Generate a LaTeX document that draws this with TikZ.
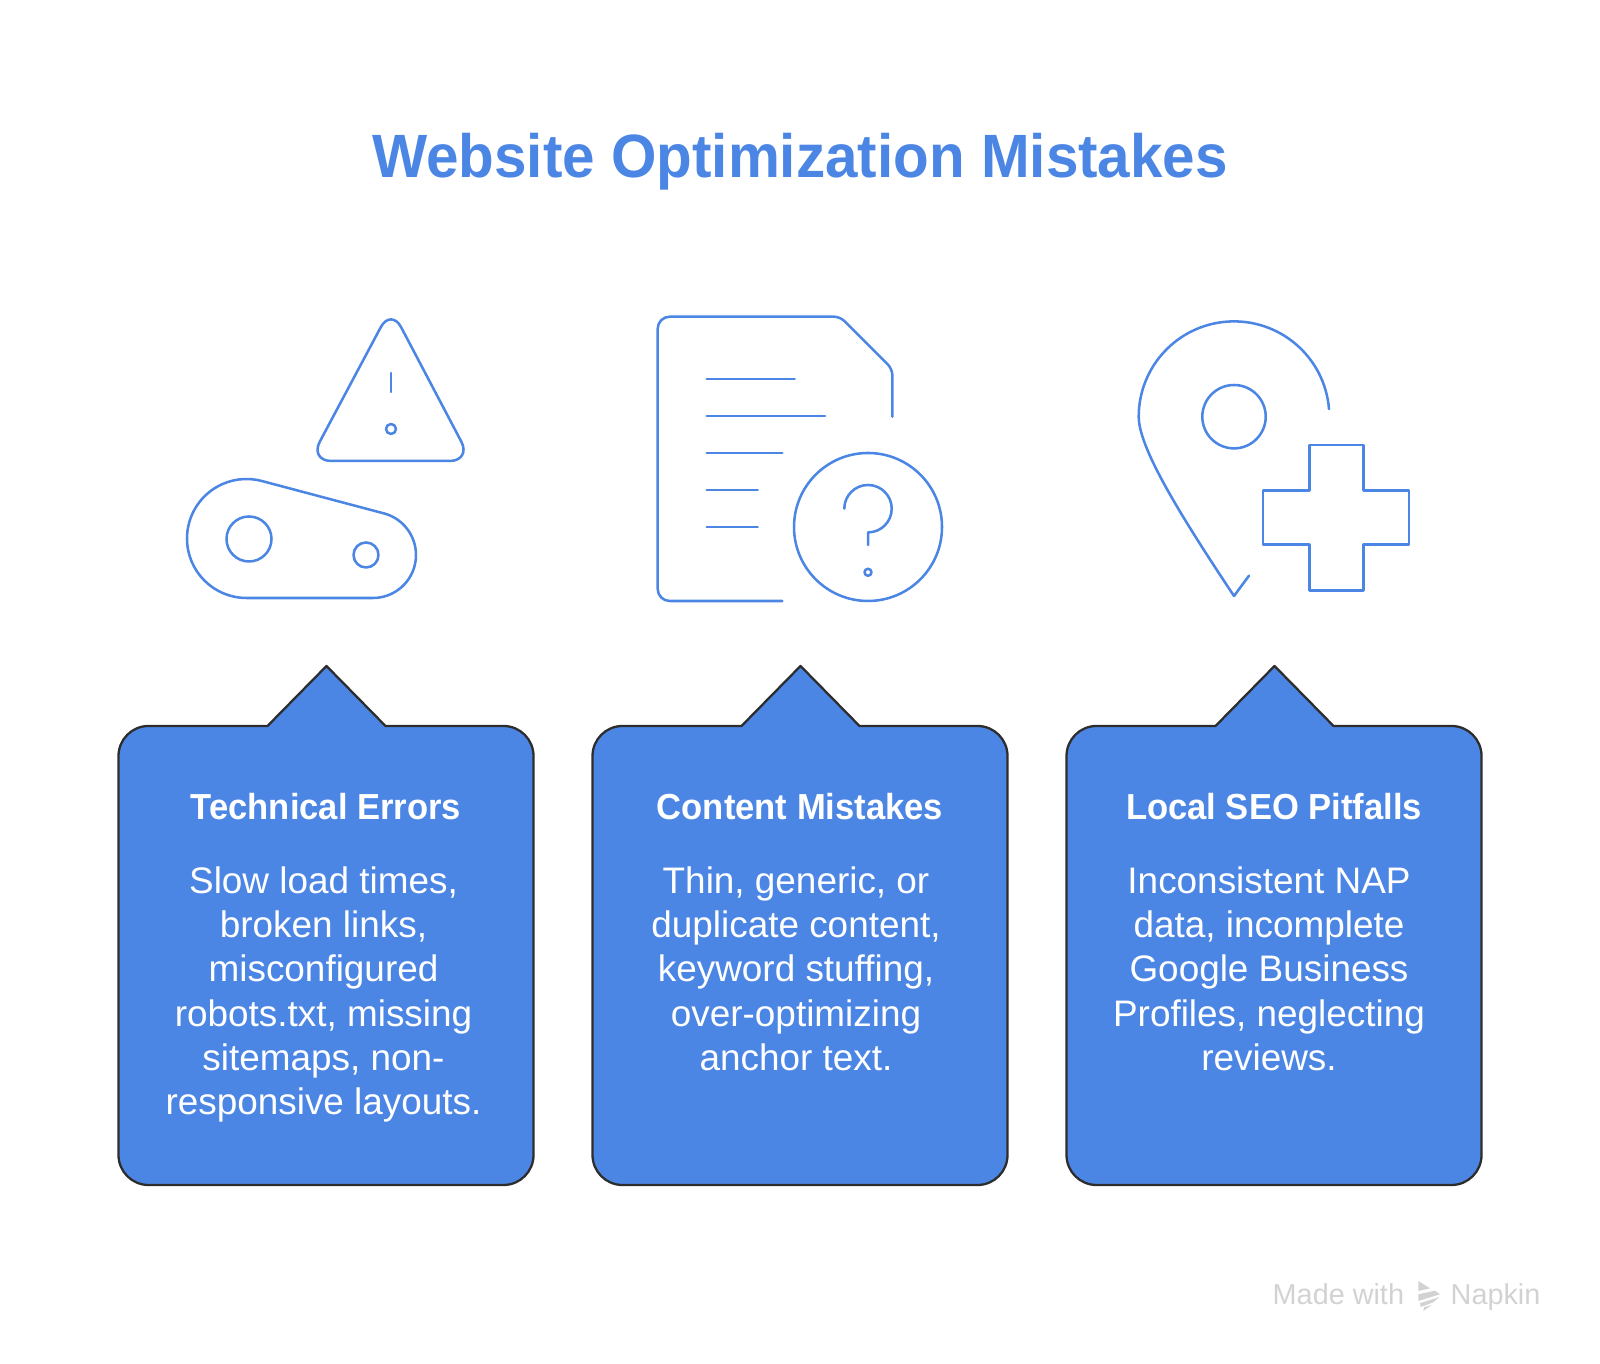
\documentclass[tikz,border=0pt]{standalone}
\usepackage{fontspec}
\setmainfont{Liberation Sans}
\newfontfamily\tightbold[FakeStretch=0.955]{Liberation Sans Bold}
\usetikzlibrary{calc}
\definecolor{napkinblue}{HTML}{4C86E5}
\definecolor{boxedge}{HTML}{2D2D2D}
\definecolor{markgray}{HTML}{D2D2D2}
\tikzset{
	iconline/.style={draw=napkinblue, line width=0.72pt, line cap=round, line join=round},
	boxline/.style={draw=boxedge, fill=napkinblue, line width=0.65pt, line join=round},
	headtext/.style={text=white, font=\fontsize{10.3}{12}\selectfont\tightbold},
	bodytext/.style={text=white, align=center, anchor=north, font=\fontsize{10.5}{12.62}\selectfont},
	marktext/.style={text=markgray, anchor=base west, inner sep=0, font=\fontsize{8.2}{10}\selectfont},
}
\def\calloutbox(#1){\draw[boxline, shift={(#1,0)}] (3.26, 6.97) -- (3.85, 6.37) -- (5.03, 6.37) arc (90:0:0.3) -- (5.33, 2.08) arc (0:-90:0.3) -- (1.48, 1.78) arc (-90:-180:0.3) -- (1.18, 6.07) arc (180:90:0.3) -- (2.67, 6.37) -- cycle;}

\begin{document}
\begin{tikzpicture}
	\useasboundingbox (0, 0) rectangle (16, 13.63);
	
	\node[text=napkinblue, font=\fontsize{17.4}{20}\selectfont\tightbold] (title) at (8, 12.01) {Website Optimization Mistakes};
	
	%%%%% warning icon %%%%%
	\draw[iconline, rounded corners=0.22cm] (3.91, 10.55) -- (4.715, 9.02) -- (3.095, 9.02) -- cycle;
	\draw[iconline] (3.91, 9.90) -- (3.91, 9.71);
	\draw[iconline] (3.91, 9.34) circle (0.05);
	\draw[iconline] (2.465, 7.65) arc (270:75.14:0.595) -- ($(3.73, 8.08)+(75.14:0.43)$) arc (75.14:-90:0.43) -- cycle;
	\draw[iconline] (2.49, 8.24) circle (0.225);
	\draw[iconline] (3.66, 8.08) circle (0.125);
	
	%%%%% document icon %%%%%
	\draw[iconline, rounded corners=0.12cm] (7.823, 7.62) -- (6.577, 7.62) -- (6.577, 10.463) [rounded corners=0.06cm] -- (8.40, 10.463) -- (8.923, 9.94) -- (8.923, 9.463);
	\draw[iconline] (7.067, 9.84) -- (7.947, 9.84);
	\draw[iconline] (7.067, 9.47) -- (8.25, 9.47);
	\draw[iconline] (7.067, 9.10) -- (7.823, 9.10);
	\draw[iconline] (7.067, 8.73) -- (7.577, 8.73);
	\draw[iconline] (7.067, 8.36) -- (7.577, 8.36);
	\draw[iconline] (8.68, 8.36) circle (0.74);
	\draw[iconline] (8.443, 8.543) arc (180:-90:0.237) -- (8.68, 8.18);
	\draw[iconline] (8.68, 7.907) circle (0.035);
	
	%%%%% pin icon %%%%%
	\draw[iconline] ($(12.34, 9.463)+(4.6:0.953)$) arc (4.6:180:0.953) .. controls (11.387, 9.163) and (11.767, 8.53) .. (12.34, 7.67) -- (12.49, 7.873);
	\draw[iconline] (12.34, 9.463) circle (0.317);
	\draw[iconline] (13.093, 9.18) -- (13.633, 9.18) -- (13.633, 8.727) -- (14.09, 8.727) -- (14.09, 8.183) -- (13.633, 8.183) -- (13.633, 7.723) -- (13.093, 7.723) -- (13.093, 8.183) -- (12.63, 8.183) -- (12.63, 8.727) -- (13.093, 8.727) -- cycle;
	
	%%%%% boxes %%%%%
	\calloutbox(0.005);
	\calloutbox(4.745);
	\calloutbox(9.485);
	
	\node[headtext] (headerrors) at (3.26, 5.56) {Technical Errors};
	\node[headtext] (headcontent) at (8, 5.56) {Content Mistakes};
	\node[headtext] (headlocal) at (12.74, 5.56) {Local SEO Pitfalls};
	
	\node[bodytext] (bodyerrors) at (3.235, 5.09) {Slow load times,\\broken links,\\misconfigured\\robots.txt, missing\\sitemaps, non-\\responsive layouts.};
	\node[bodytext] (bodycontent) at (7.96, 5.09) {Thin, generic, or\\duplicate content,\\keyword stuffing,\\over-optimizing\\anchor text.};
	\node[bodytext] (bodylocal) at (12.69, 5.09) {Inconsistent NAP\\data, incomplete\\Google Business\\Profiles, neglecting\\reviews.};
	
	%%%%% made with %%%%%
	\node[marktext] (madewith) at (12.72, 0.59) {Made with};
	\node[marktext] (napkin) at (14.50, 0.59) {Napkin};
	\fill[markgray] (14.183, 0.82) -- (14.30, 0.747) -- (14.183, 0.72) -- cycle;
	\fill[markgray] (14.183, 0.687) -- (14.35, 0.723) -- (14.40, 0.687) -- (14.183, 0.62) -- cycle;
	\fill[markgray] (14.20, 0.597) -- (14.393, 0.66) -- (14.333, 0.607) -- (14.207, 0.56) -- cycle;
	\fill[markgray] (14.233, 0.52) -- (14.317, 0.58) -- (14.24, 0.557) -- cycle;
\end{tikzpicture}
\end{document}
